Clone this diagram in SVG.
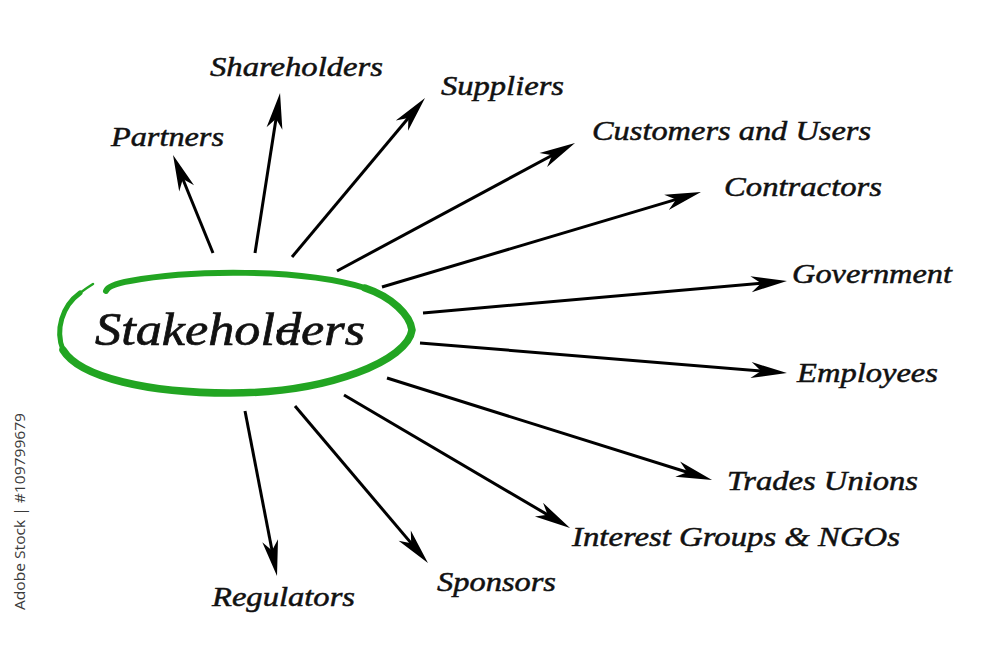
<svg xmlns="http://www.w3.org/2000/svg" width="1000" height="649" viewBox="0 0 1000 649">
<style>
.lbl{font-family:"Liberation Serif","Times New Roman",serif;font-style:italic;font-size:28px;fill:#111;stroke:#111;stroke-width:0.5;}
.main{font-family:"Liberation Serif","Times New Roman",serif;font-style:italic;font-size:47px;fill:#111;stroke:#111;stroke-width:0.7;}
.conn{stroke:#000;stroke-width:3;fill:none;marker-end:url(#ah);}
.ring{fill:none;stroke:#22a522;stroke-linecap:round;}
.wm{font-family:"Open Sans","DejaVu Sans",sans-serif;font-size:15px;fill:#3a3a3a;}
</style>
<defs>
<marker id="ah" markerUnits="userSpaceOnUse" markerWidth="60" markerHeight="30" viewBox="-30 -15 60 30" refX="0" refY="0" orient="auto">
<path d="M10,0 L-26,-8 L-16,0 L-26,8 Z" fill="#000"/>
</marker>
</defs>
<rect width="1000" height="649" fill="#fff"/>
<g id="connectors">
<line class="conn" x1="213" y1="253" x2="176.8" y2="164.3"/>
<line class="conn" x1="255" y1="253" x2="278.5" y2="102.9"/>
<line class="conn" x1="292" y1="257" x2="418.6" y2="105.7"/>
<line class="conn" x1="337" y1="271" x2="566.2" y2="147.7"/>
<line class="conn" x1="382" y1="287" x2="691.4" y2="194.9"/>
<line class="conn" x1="423" y1="313" x2="777.0" y2="281.9"/>
<line class="conn" x1="420" y1="343" x2="777.0" y2="372.2"/>
<line class="conn" x1="387" y1="378" x2="702.5" y2="477.0"/>
<line class="conn" x1="344" y1="395" x2="561.4" y2="522.9"/>
<line class="conn" x1="295" y1="406" x2="421.5" y2="555.4"/>
<line class="conn" x1="245" y1="411" x2="275.1" y2="566.2"/>
</g>
<g id="stakeholders">
<path class="ring" stroke-width="6" d="M106,291 C108,286 118,283 130,281 C190,270 300,268 365,288"/>
<path class="ring" stroke-width="7.5" d="M365,288 C392,297 410,315 412,330 C408,360 330,393 230,393 C150,393 80,378 63,350"/>
<path class="ring" stroke-width="5" d="M63,350 C55,330 62,306 80,293"/>
<path class="ring" stroke-width="2.5" d="M80,293 C84,290 88,287 93,284"/>
<text class="main" x="95" y="345" textLength="270" lengthAdjust="spacingAndGlyphs">Stakeholders</text>
<line x1="277" y1="331" x2="300" y2="331" stroke="#111" stroke-width="2.5"/>
</g>
<g id="partners"><text class="lbl" x="111" y="146" textLength="113" lengthAdjust="spacingAndGlyphs">Partners</text></g>
<g id="shareholders"><text class="lbl" x="210" y="76" textLength="173" lengthAdjust="spacingAndGlyphs">Shareholders</text></g>
<g id="suppliers"><text class="lbl" x="441" y="95" textLength="123" lengthAdjust="spacingAndGlyphs">Suppliers</text></g>
<g id="customers"><text class="lbl" x="592" y="140" textLength="279" lengthAdjust="spacingAndGlyphs">Customers and Users</text></g>
<g id="contractors"><text class="lbl" x="724" y="196" textLength="158" lengthAdjust="spacingAndGlyphs">Contractors</text></g>
<g id="government"><text class="lbl" x="792" y="283" textLength="160" lengthAdjust="spacingAndGlyphs">Government</text></g>
<g id="employees"><text class="lbl" x="797" y="382" textLength="141" lengthAdjust="spacingAndGlyphs">Employees</text></g>
<g id="trades-unions"><text class="lbl" x="727" y="490" textLength="191" lengthAdjust="spacingAndGlyphs">Trades Unions</text></g>
<g id="interest-groups"><text class="lbl" x="572" y="546" textLength="328" lengthAdjust="spacingAndGlyphs">Interest Groups &amp; NGOs</text></g>
<g id="sponsors"><text class="lbl" x="437" y="591" textLength="119" lengthAdjust="spacingAndGlyphs">Sponsors</text></g>
<g id="regulators"><text class="lbl" x="212" y="606" textLength="143" lengthAdjust="spacingAndGlyphs">Regulators</text></g>
<text class="wm" transform="translate(25,610) rotate(-90)" textLength="197" lengthAdjust="spacingAndGlyphs">Adobe Stock | #109799679</text>
</svg>
